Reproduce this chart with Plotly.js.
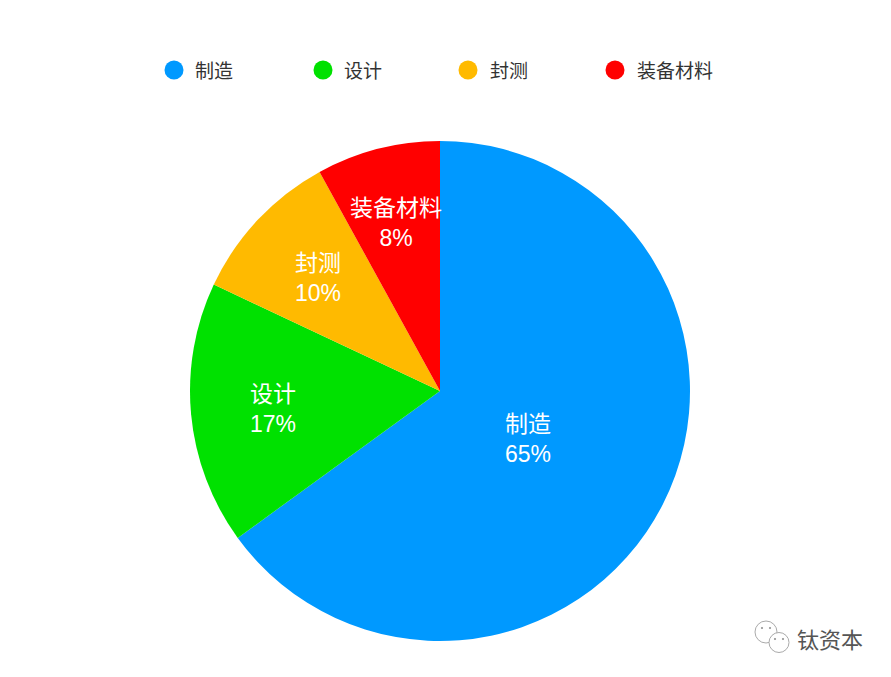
<!DOCTYPE html>
<html><head><meta charset="utf-8">
<script src="https://cdn.plot.ly/plotly-3.0.1.min.js"></script>
<style>html,body{margin:0;padding:0;background:#fff}</style></head>
<body><div id="c" style="width:891px;height:677px"></div>
<script>
var categories = ["制造","设计","封测","装备材料"];
var shares = [65,17,10,8];
var colors = ["#0099FF","#00E100","#FFBA00","#FF0000"];
var W = 891, H = 677;
var font = '"Liberation Sans", "Noto Sans CJK SC", sans-serif';
var cjk = '"Noto Sans CJK SC", sans-serif';
function px(x){return x/W;}
function py(y){return 1-y/H;}
var traces = [{
  type:"pie", labels:categories, values:shares, sort:false, direction:"clockwise", rotation:0,
  marker:{colors:colors,line:{width:0}},
  textinfo:"none",
  domain:{x:[px(190),px(690)],y:[py(641),py(141)]},
  hoverinfo:"label+percent"
}];
var legendX=[174,323,468,615], legendText=[193,342,488,635];
var labelX=[528,273,318,396], labelY=[438.5,409,277.5,222.5];
var annotations = categories.map(function(c,i){return {text:c,x:px(legendText[i]),y:py(69.5),xref:"paper",yref:"paper",xanchor:"left",yanchor:"middle",showarrow:false,font:{size:19,color:"#333",family:cjk}};});
categories.forEach(function(c,i){annotations.push({text:c+"<br>"+shares[i]+"%",x:px(labelX[i]),y:py(labelY[i]),xref:"paper",yref:"paper",xanchor:"center",yanchor:"middle",align:"center",showarrow:false,font:{size:23,color:"#fff",family:font}});});
annotations.push({text:"钛资本",x:px(795),y:py(638),xref:"paper",yref:"paper",xanchor:"left",yanchor:"middle",showarrow:false,font:{size:22,color:"#555",family:cjk}});
var shapes = colors.map(function(col,i){return {type:"circle",xref:"paper",yref:"paper",x0:px(legendX[i]-9.5),x1:px(legendX[i]+9.5),y0:py(79.5),y1:py(60.5),fillcolor:col,line:{width:0}};});
function circ(cx,cy,r,lc,fc){return {type:"circle",xref:"paper",yref:"paper",x0:px(cx-r),x1:px(cx+r),y0:py(cy+r),y1:py(cy-r),fillcolor:fc,line:{width:1,color:lc}};}
var g="#aaa";
shapes.push(circ(766,632,11,g,"#fff"));
shapes.push(circ(779,642.5,10,g,"#fff"));
shapes.push(circ(762,628,0.7,"#999","#999"));
shapes.push(circ(770,628,0.7,"#999","#999"));
shapes.push(circ(775,639,0.7,"#999","#999"));
shapes.push(circ(783,639,0.7,"#999","#999"));
Plotly.newPlot("c",traces,{width:W,height:H,margin:{l:0,r:0,t:0,b:0},showlegend:false,paper_bgcolor:"#fff",annotations:annotations,shapes:shapes},{displayModeBar:false});
</script></body></html>
